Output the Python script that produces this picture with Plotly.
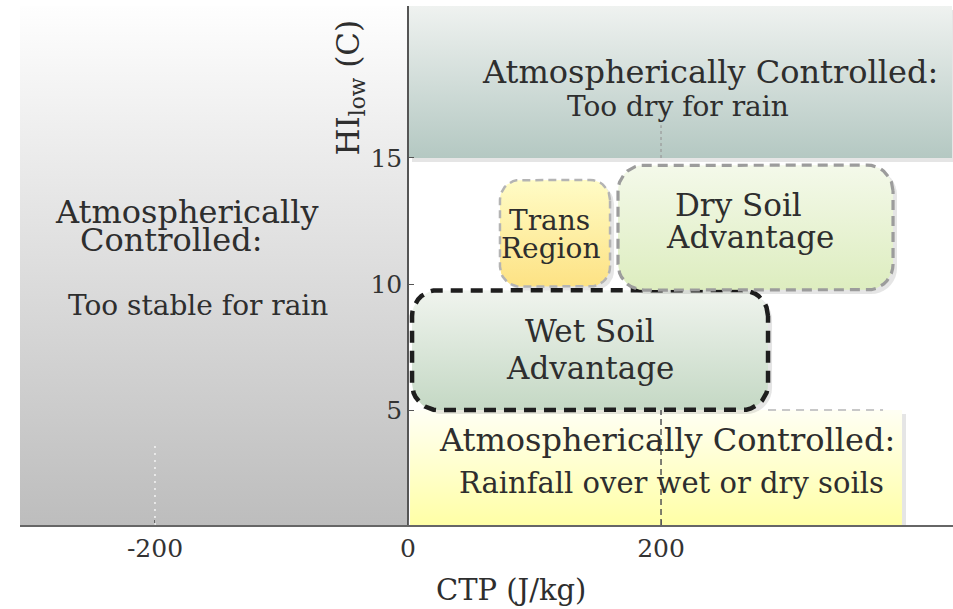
import numpy as np
import plotly.graph_objects as go

# ---- data: regions of the CTP / HI_low diagram ----
region_names = ["stable", "dry", "rainfall", "wet", "trans", "drysoil"]
region_x0 = [-307, 0, 1.6, 3.2, 72.7, 166]
region_x1 = [0, 430, 390.5, 284.6, 159.7, 383.4]
region_y0 = [0.44, 15.0, 0.44, 5.0, 9.9, 9.76]
region_y1 = [21.03, 21.03, 5.0, 9.76, 14.13, 14.72]

x_ticks = [-200, 0, 200]
x_ticktext = ["-200", "0", "200"]
y_ticks = [5, 10, 15]

# ---- layout geometry ----
W, H = 953, 609
ML, MR, MT, MB = 20, 0, 6, 84
XR = [-306.7, 430.8]
YR = [0.44, 21.03]
SX = (W - ML - MR) / (XR[1] - XR[0])
SY = (H - MT - MB) / (YR[1] - YR[0])

style = {
    "stable":   dict(top="#fefefe", bot="#bdbdbd", r=0,  line=None),
    "dry":      dict(top="#eff2f0", bot="#b4c8c2", r=0,  line=None),
    "rainfall": dict(top="#fffff4", bot="#ffffa6", r=0,  line=None),
    "wet":      dict(top="#f0f4ee", bot="#c4d8c4", r=26,
                     line=dict(color="#1e1e1e", width=4.5, dash="12px,8px")),
    "trans":    dict(top="#fffcc6", bot="#fde284", r=20,
                     line=dict(color="#b4b4b4", width=2.5, dash="8px,5px")),
    "drysoil":  dict(top="#f4f9ea", bot="#ddedbf", r=26,
                     line=dict(color="#9c9c9c", width=3.2, dash="10px,6px")),
}


def rounded(x0, x1, y0, y1, r_px, dx=0.0, dy=0.0):
    x0 += dx / SX; x1 += dx / SX; y0 += dy / SY; y1 += dy / SY
    if r_px <= 0:
        return [x0, x1, x1, x0, x0], [y0, y0, y1, y1, y0]
    rx, ry = r_px / SX, r_px / SY
    xs, ys = [], []
    corners = [(x1 - rx, y1 - ry, 0), (x0 + rx, y1 - ry, 90),
               (x0 + rx, y0 + ry, 180), (x1 - rx, y0 + ry, 270)]
    for cx, cy, a0 in corners:
        t = np.radians(np.linspace(a0, a0 + 90, 10))
        xs += list(cx + rx * np.cos(t))
        ys += list(cy + ry * np.sin(t))
    xs.append(xs[0]); ys.append(ys[0])
    return xs, ys


fig = go.Figure()

for name, x0, x1, y0, y1 in zip(region_names, region_x0, region_x1, region_y0, region_y1):
    st = style[name]
    sdx = -4 if name == "stable" else 4
    sx, sy = rounded(x0, x1, y0, y1, st["r"], dx=sdx, dy=-4)
    fig.add_trace(go.Scatter(x=sx, y=sy, mode="lines", fill="toself",
                             fillcolor="rgba(0,0,0,0.10)", line=dict(width=0),
                             hoverinfo="skip", showlegend=False))
    xs, ys = rounded(x0, x1, y0, y1, st["r"])
    fig.add_trace(go.Scatter(
        x=xs, y=ys, mode="lines", fill="toself",
        fillgradient=dict(type="vertical", start=y0, stop=y1,
                          colorscale=[[0, st["bot"]], [1, st["top"]]]),
        line=st["line"] if st["line"] else dict(width=0),
        hoverinfo="skip", showlegend=False))

# visible gridline pieces
ri = region_names.index("rainfall")
di = region_names.index("dry")
si = region_names.index("stable")
wi = region_names.index("wet")
fig.add_shape(type="line", xref="x", yref="y", x0=x_ticks[2], x1=x_ticks[2],
              y0=region_y0[ri], y1=region_y1[ri],
              line=dict(color="#555", width=1.5, dash="6px,4px"))
fig.add_shape(type="line", xref="x", yref="y", x0=x_ticks[2], x1=x_ticks[2],
              y0=region_y0[di], y1=region_y0[di] + 1.3,
              line=dict(color="#999", width=1.2, dash="3px,3px"))
fig.add_shape(type="line", xref="x", yref="y", x0=x_ticks[0], x1=x_ticks[0],
              y0=region_y0[si], y1=region_y0[si] + 3.3,
              line=dict(color="#f4f4f4", width=1.5, dash="2px,5px"))
fig.add_shape(type="line", xref="x", yref="y", x0=region_x1[wi], x1=region_x1[ri] - 15,
              y0=y_ticks[0], y1=y_ticks[0],
              line=dict(color="#c8c8c8", width=2, dash="8px,6px"))

# ---- text ----
serif = "DejaVu Serif"
txt = "#2e2e2e"
labels = [
    ("Atmospherically", -174.7, 12.86, 32),
    ("Controlled:", -187, 11.75, 32),
    ("Too stable for rain", -166, 9.13, 28),
    ("Atmospherically Controlled:", 238.7, 18.41, 32),
    ("Too dry for rain", 213.4, 17.06, 28),
    ("Trans", 111.5, 12.54, 28),
    ("Region", 113, 11.39, 28),
    ("Dry Soil", 261, 13.13, 31),
    ("Advantage", 270, 11.87, 31),
    ("Wet Soil", 144, 8.13, 31),
    ("Advantage", 144, 6.67, 31),
    ("Atmospherically Controlled:", 204.7, 3.81, 32),
    ("Rainfall over wet or dry soils", 208, 2.10, 29),
]
for t, x, y, s in labels:
    fig.add_annotation(x=x, y=y, xref="x", yref="y", text=t, showarrow=False,
                       font=dict(family=serif, size=s, color=txt))

fig.add_annotation(x=-45.8, y=17.8, xref="x", yref="y", text="HI<sub>low</sub> (C)",
                   textangle=-90, showarrow=False,
                   font=dict(family=serif, size=31, color=txt))
fig.add_annotation(x=81.4, y=-0.125, xref="x", yref="paper", yanchor="middle",
                   text="CTP (J/kg)", showarrow=False,
                   font=dict(family=serif, size=29, color=txt))

fig.update_layout(
    width=W, height=H,
    margin=dict(l=ML, r=MR, t=MT, b=MB),
    paper_bgcolor="white", plot_bgcolor="white",
    showlegend=False,
    xaxis=dict(range=XR, tickvals=x_ticks, ticktext=x_ticktext,
               showgrid=False, zeroline=False,
               showline=True, linecolor="#666", linewidth=1.5,
               ticks="inside", ticklen=5, tickcolor="#666",
               tickfont=dict(family=serif, size=25, color="#333")),
    yaxis=dict(range=YR, tickvals=y_ticks, showgrid=False, zeroline=False,
               anchor="free", position=(0 - XR[0]) / (XR[1] - XR[0]),
               showline=True, linecolor="#555", linewidth=1.5,
               ticks="inside", ticklen=5, tickcolor="#555",
               tickfont=dict(family=serif, size=25, color="#333")),
)

fig.write_html("out.html", config={"displayModeBar": False},
               post_script="document.body.style.margin='0';document.body.style.overflow='hidden';")
